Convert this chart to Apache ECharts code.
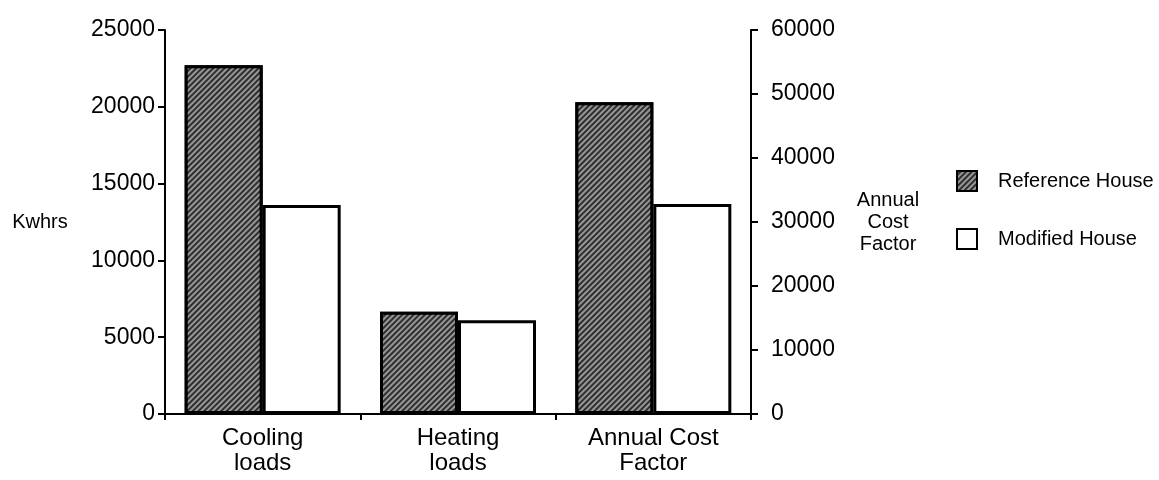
<!DOCTYPE html>
<html>
<head>
<meta charset="utf-8">
<script src="https://cdn.jsdelivr.net/npm/echarts@6/dist/echarts.min.js"></script>
<style>
html,body{margin:0;padding:0;background:#fff;}
#chart{width:1159px;height:480px;}
</style>
</head>
<body>
<div id="chart"></div>
<script>
const categories = ['Cooling\nloads', 'Heating\nloads', 'Annual Cost\nFactor'];
const seriesNames = ['Reference House', 'Modified House'];
// Kwhrs (left axis)
const referenceKwh = [22700, 6650, '-'];
const modifiedKwh = [13600, 6100, '-'];
// Annual cost factor (right axis)
const referenceCost = ['-', '-', 48700];
const modifiedCost = ['-', '-', 32800];
const leftTicks = {min: 0, max: 25000, interval: 5000};
const rightTicks = {min: 0, max: 60000, interval: 10000};

const FONT = '"Liberation Sans", Arial, Helvetica, sans-serif';
const refStyle = {
  color: '#2e2e2e',
  borderColor: '#000',
  borderWidth: 3,
  decal: {
    symbol: 'rect',
    symbolSize: 1,
    dashArrayX: [1, 0],
    dashArrayY: [1.5, 2],
    rotation: -Math.PI / 4,
    color: 'rgba(255,255,255,0.5)'
  }
};
const modStyle = {color: '#fff', borderColor: '#000', borderWidth: 3};

const chart = echarts.init(document.getElementById('chart'), null, {renderer: 'canvas'});
const axisLine = {show: true, lineStyle: {color: '#000', width: 2}};
const axisTick = {show: true, length: 7, lineStyle: {color: '#000', width: 2}};
const plain = v => String(v);

chart.setOption({
  backgroundColor: '#fff',
  animation: false,
  textStyle: {fontFamily: FONT, color: '#000'},
  grid: {left: 165, right: 408, top: 30, bottom: 66},
  legend: {
    orient: 'vertical',
    left: 956,
    top: 170,
    padding: 0,
    icon: 'rect',
    itemWidth: 20,
    itemHeight: 20,
    itemGap: 36,
    data: seriesNames,
    textStyle: {fontFamily: FONT, fontSize: 20, color: '#000', padding: [0, 0, 0, 16]}
  },
  xAxis: [
    {
      type: 'category',
      data: categories,
      axisLine: axisLine,
      axisTick: {show: true, length: 6, lineStyle: {color: '#000', width: 2}},
      axisLabel: {fontFamily: FONT, fontSize: 24, lineHeight: 25, color: '#000', margin: 12}
    },
    {
      type: 'category',
      data: categories,
      show: false,
      position: 'bottom'
    }
  ],
  yAxis: [
    {
      type: 'value',
      min: leftTicks.min, max: leftTicks.max, interval: leftTicks.interval,
      position: 'left',
      name: 'Kwhrs',
      nameLocation: 'middle',
      nameRotate: 0,
      nameGap: 125,
      nameTextStyle: {fontFamily: FONT, fontSize: 20, color: '#000', align: 'center', verticalAlign: 'middle', padding: [14, 0, 0, 0]},
      axisLine: axisLine,
      axisTick: axisTick,
      splitLine: {show: false},
      axisLabel: {fontFamily: FONT, fontSize: 23, color: '#000', margin: 10, formatter: plain}
    },
    {
      type: 'value',
      min: rightTicks.min, max: rightTicks.max, interval: rightTicks.interval,
      position: 'right',
      name: 'Annual\nCost\nFactor',
      nameLocation: 'middle',
      nameRotate: 0,
      nameGap: 137,
      nameTextStyle: {fontFamily: FONT, fontSize: 20, lineHeight: 22, color: '#000', align: 'center', verticalAlign: 'middle', padding: [0, 0, 14, 0]},
      axisLine: axisLine,
      axisTick: axisTick,
      splitLine: {show: false},
      axisLabel: {fontFamily: FONT, fontSize: 23, color: '#000', margin: 20, formatter: plain}
    }
  ],
  series: [
    {name: seriesNames[0], type: 'bar', xAxisIndex: 0, yAxisIndex: 0, data: referenceKwh, barWidth: 78, barGap: '0%', itemStyle: refStyle},
    {name: seriesNames[1], type: 'bar', xAxisIndex: 0, yAxisIndex: 0, data: modifiedKwh, barWidth: 78, barGap: '0%', itemStyle: modStyle},
    {name: seriesNames[0], type: 'bar', xAxisIndex: 1, yAxisIndex: 1, data: referenceCost, barWidth: 78, barGap: '0%', itemStyle: refStyle},
    {name: seriesNames[1], type: 'bar', xAxisIndex: 1, yAxisIndex: 1, data: modifiedCost, barWidth: 78, barGap: '0%', itemStyle: modStyle}
  ]
});
</script>
</body>
</html>
